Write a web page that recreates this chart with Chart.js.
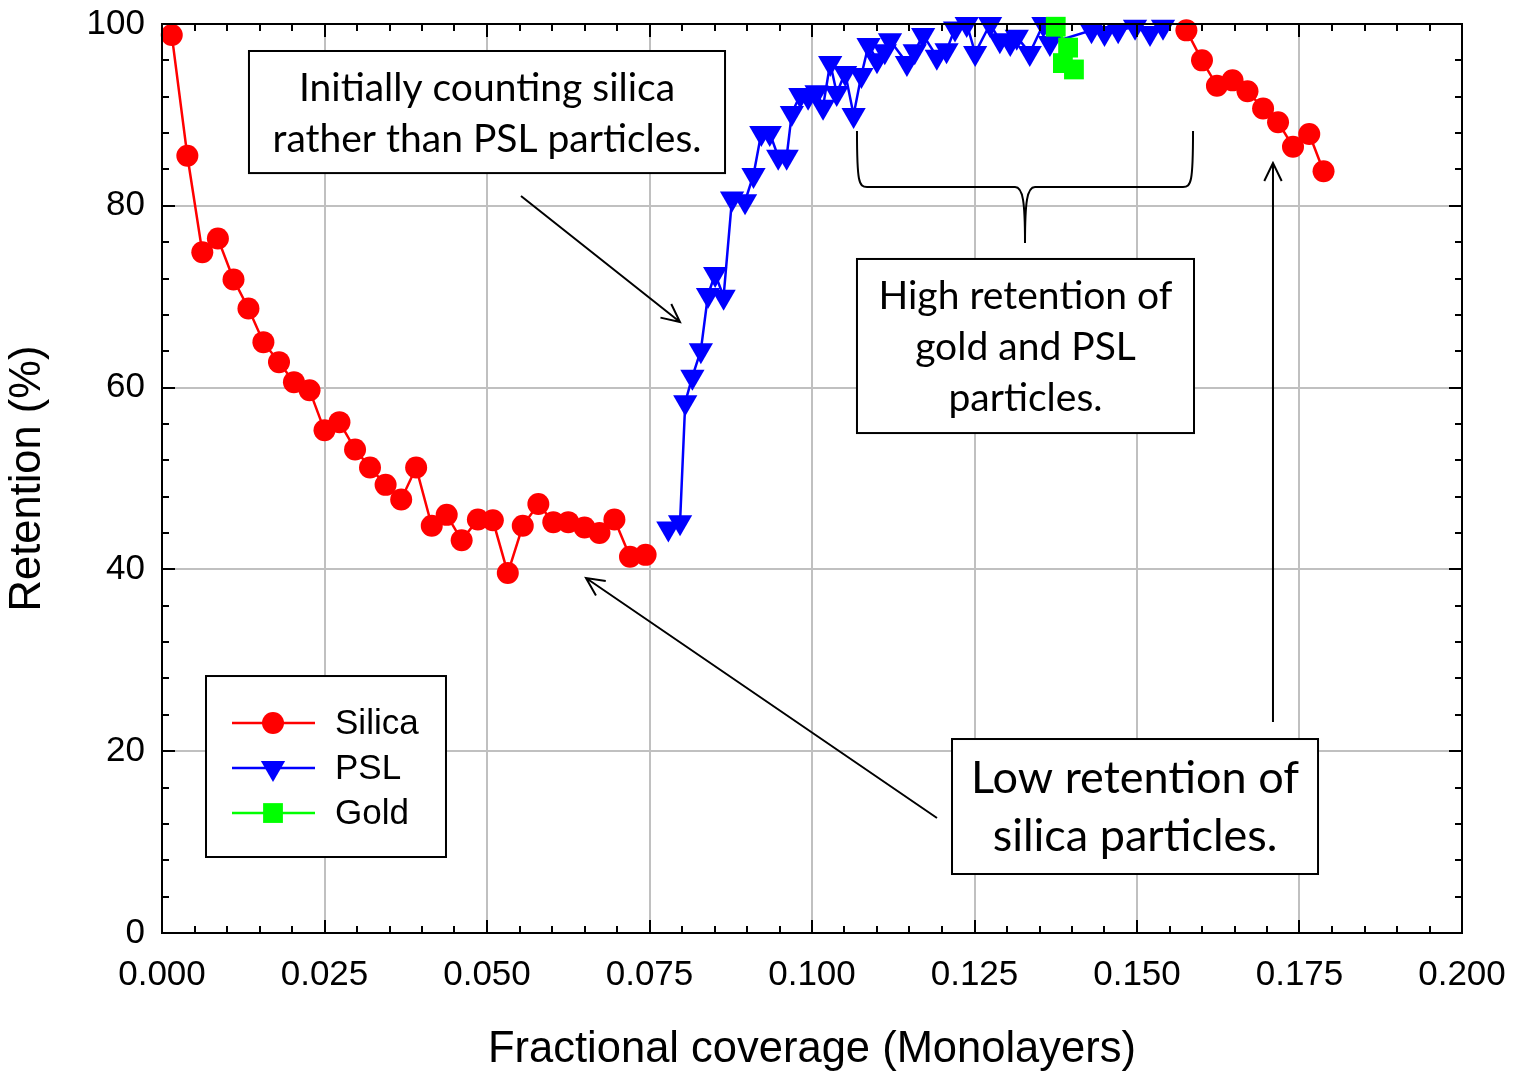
<!DOCTYPE html>
<html lang="en">
<head>
<meta charset="UTF-8">
<title>Retention vs Fractional Coverage</title>
<script src="https://cdn.jsdelivr.net/npm/chart.js"></script>
<style>
  html, body { margin: 0; padding: 0; background: #fff; }
</style>
</head>
<body>
<canvas id="retentionChart" width="1514" height="1072"></canvas>
<script>
// Silica, first run (before PSL takes over)
const silicaLowX = [0.0015, 0.0039, 0.0062, 0.0086, 0.0110, 0.0133, 0.0156, 0.0180, 0.0203, 0.0227,
                    0.0250, 0.0273, 0.0297, 0.0320, 0.0344, 0.0368, 0.0391, 0.0415, 0.0438, 0.0461,
                    0.0486, 0.0509, 0.0532, 0.0555, 0.0579, 0.0602, 0.0625, 0.0650, 0.0673, 0.0696,
                    0.0720, 0.0744];
const silicaLowY = [98.8, 85.5, 74.9, 76.4, 71.9, 68.7, 65.0, 62.8, 60.6, 59.7,
                    55.3, 56.2, 53.2, 51.2, 49.3, 47.7, 51.2, 44.8, 46.0, 43.2,
                    45.5, 45.4, 39.6, 44.8, 47.2, 45.2, 45.2, 44.6, 44.0, 45.5,
                    41.4, 41.6];
// Silica, second run (high coverage)
const silicaHighX = [0.1576, 0.1600, 0.1623, 0.1647, 0.1670, 0.1694, 0.1717, 0.1740, 0.1765, 0.1787];
const silicaHighY = [99.3, 96.0, 93.2, 93.8, 92.6, 90.7, 89.2, 86.5, 87.9, 83.8];

const pslX = [0.0779, 0.0797, 0.0805, 0.0816, 0.0829, 0.0840, 0.0851, 0.0864, 0.0877, 0.0897,
              0.0910, 0.0922, 0.0935, 0.0948, 0.0961, 0.0969, 0.0982, 0.0994, 0.1007, 0.1017,
              0.1028, 0.1038, 0.1051, 0.1064, 0.1076, 0.1087, 0.1100, 0.1112, 0.1120, 0.1146,
              0.1158, 0.1171, 0.1192, 0.1207, 0.1220, 0.1238, 0.1251, 0.1274, 0.1289, 0.1305,
              0.1315, 0.1335, 0.1356, 0.1366, 0.1430, 0.1450, 0.1471, 0.1497, 0.1520, 0.1540];
const pslY = [44.5, 45.2, 58.4, 61.2, 64.1, 70.2, 72.5, 70.0, 80.8, 80.5,
              83.4, 88.0, 88.0, 85.4, 85.4, 90.2, 92.2, 92.0, 92.5, 90.9,
              95.7, 92.4, 94.6, 90.0, 94.4, 97.7, 96.0, 97.0, 98.2, 95.7,
              97.0, 98.8, 96.4, 97.1, 99.5, 100.0, 96.8, 100.0, 98.2, 97.9,
              98.6, 96.8, 100.0, 97.9, 99.3, 99.0, 99.3, 99.7, 99.0, 99.7];

const goldX = [0.1375, 0.1394, 0.1386, 0.1403];
const goldY = [99.7, 97.4, 95.7, 95.0];

const xTickLabels = ['0.000', '0.025', '0.050', '0.075', '0.100', '0.125', '0.150', '0.175', '0.200'];
const yTickLabels = ['0', '20', '40', '60', '80', '100'];

const toPoints = (xs, ys) => xs.map((x, i) => ({ x: x, y: ys[i] }));
// null point breaks the silica line between the two runs
const silicaPoints = toPoints(silicaLowX, silicaLowY)
    .concat([{ x: 0.12, y: null }])
    .concat(toPoints(silicaHighX, silicaHighY));

const isMajor = (v, step) => Math.abs(v / step - Math.round(v / step)) < 1e-6;

const axisFont = "'Liberation Sans', Arial, sans-serif";
const callout = "Lato, Carlito, Calibri, 'Open Sans', sans-serif";

// text boxes, arrows and the brace, placed in data units
const notes = {
    boxes: [
        { x0: 0.01338, x1: 0.08662, y0: 97.03, y1: 83.6, size: 39,
          lines: [['Initially counting silica', 92.96], ['rather than PSL particles.', 87.35]] },
        { x0: 0.10692, x1: 0.15877, y0: 74.15, y1: 55.0, size: 39,
          lines: [['High retention of', 70.08], ['gold and PSL', 64.47], ['particles.', 58.86]] },
        { x0: 0.12154, x1: 0.17785, y0: 21.34, y1: 6.49, size: 45,
          lines: [['Low retention of', 17.05], ['silica particles.', 10.67]] }
    ],
    arrows: [
        { from: [0.05523, 81.08], to: [0.07969, 67.22] },
        { from: [0.11923, 12.65], to: [0.06523, 39.05] },
        { from: [0.17092, 23.21], to: [0.17092, 84.71] }
    ],
    brace: { left: 0.10692, right: 0.15862, center: 0.13277, top: 88.23, mid: 82.07, tip: 75.91 },
    legend: { x0: 0.00677, x1: 0.04369, y0: 28.27, y1: 8.36 }
};

const frameTicks = {
    id: 'frameTicks',
    afterDatasetsDraw(chart) {
        const { ctx, chartArea: a, scales: { x, y } } = chart;
        ctx.save();
        ctx.strokeStyle = '#000';
        ctx.lineWidth = 2;
        ctx.beginPath();
        x.ticks.forEach((t, i) => {
            const px = Math.round(x.getPixelForTick(i));
            const len = isMajor(t.value, 0.025) ? 13 : 7;
            ctx.moveTo(px, a.bottom); ctx.lineTo(px, a.bottom - len);
            ctx.moveTo(px, a.top); ctx.lineTo(px, a.top + len);
        });
        y.ticks.forEach((t, i) => {
            const py = Math.round(y.getPixelForTick(i));
            const len = isMajor(t.value, 20) ? 13 : 7;
            ctx.moveTo(a.left, py); ctx.lineTo(a.left + len, py);
            ctx.moveTo(a.right, py); ctx.lineTo(a.right - len, py);
        });
        ctx.stroke();
        ctx.strokeRect(a.left, a.top, a.right - a.left, a.bottom - a.top);
        ctx.restore();
    }
};

function arrowHead(ctx, fx, fy, tx, ty) {
    const ang = Math.atan2(ty - fy, tx - fx);
    const len = 20, spread = 0.45;
    ctx.moveTo(tx - len * Math.cos(ang - spread), ty - len * Math.sin(ang - spread));
    ctx.lineTo(tx, ty);
    ctx.lineTo(tx - len * Math.cos(ang + spread), ty - len * Math.sin(ang + spread));
}

const annotations = {
    id: 'annotations',
    afterDraw(chart) {
        const { ctx, scales: { x, y } } = chart;
        const px = v => x.getPixelForValue(v);
        const py = v => y.getPixelForValue(v);
        ctx.save();

        // boxes with text
        notes.boxes.forEach(b => {
            const l = px(b.x0), r = px(b.x1), t = py(b.y0), btm = py(b.y1);
            ctx.fillStyle = '#fff';
            ctx.fillRect(l, t, r - l, btm - t);
            ctx.strokeStyle = '#000';
            ctx.lineWidth = 2;
            ctx.strokeRect(l, t, r - l, btm - t);
            ctx.fillStyle = '#000';
            ctx.font = b.size + 'px ' + callout;
            ctx.textAlign = 'center';
            ctx.textBaseline = 'middle';
            b.lines.forEach(([txt, ly]) => ctx.fillText(txt, (l + r) / 2, py(ly)));
        });

        // arrows
        ctx.strokeStyle = '#000';
        ctx.lineWidth = 2;
        notes.arrows.forEach(a => {
            const fx = px(a.from[0]), fy = py(a.from[1]), tx = px(a.to[0]), ty = py(a.to[1]);
            ctx.beginPath();
            ctx.moveTo(fx, fy);
            ctx.lineTo(tx, ty);
            arrowHead(ctx, fx, fy, tx, ty);
            ctx.stroke();
        });

        // curly brace
        const br = notes.brace;
        const xl = px(br.left), xr = px(br.right), xc = px(br.center);
        const yt = py(br.top), ym = py(br.mid), yp = py(br.tip);
        ctx.beginPath();
        ctx.moveTo(xl, yt);
        ctx.bezierCurveTo(xl, ym - 4, xl + 2, ym, xl + 10, ym);
        ctx.lineTo(xc - 10, ym);
        ctx.bezierCurveTo(xc - 2, ym, xc, ym + 15, xc, yp);
        ctx.moveTo(xc, yp);
        ctx.bezierCurveTo(xc, ym + 15, xc + 2, ym, xc + 10, ym);
        ctx.lineTo(xr - 10, ym);
        ctx.bezierCurveTo(xr - 2, ym, xr, ym - 4, xr, yt);
        ctx.stroke();

        // legend box
        const lg = notes.legend;
        const ll = px(lg.x0), lr = px(lg.x1), lt = py(lg.y0), lb = py(lg.y1);
        ctx.fillStyle = '#fff';
        ctx.fillRect(ll, lt, lr - ll, lb - lt);
        ctx.strokeRect(ll, lt, lr - ll, lb - lt);
        ctx.font = '35px ' + axisFont;
        ctx.textAlign = 'left';
        ctx.textBaseline = 'middle';
        chart.data.datasets.forEach((ds, i) => {
            const ry = lt + 47 + i * 45;
            ctx.strokeStyle = ds.borderColor;
            ctx.lineWidth = 2.5;
            ctx.beginPath();
            ctx.moveTo(ll + 26, ry);
            ctx.lineTo(ll + 109, ry);
            ctx.stroke();
            ctx.fillStyle = ds.pointBackgroundColor;
            Chart.helpers.drawPoint(ctx, {
                pointStyle: ds.pointStyle, rotation: ds.pointRotation || 0,
                radius: ds.pointRadius, borderWidth: 0
            }, ll + 67, ry);
            ctx.fillStyle = '#000';
            ctx.fillText(ds.label, ll + 129, ry + 1);
        });
        ctx.restore();
    }
};

const ctx = document.getElementById('retentionChart').getContext('2d');
const chart = new Chart(ctx, {
    type: 'scatter',
    data: {
        datasets: [{
            label: 'Silica',
            data: silicaPoints,
            showLine: true,
            borderColor: '#ff0000',
            backgroundColor: '#ff0000',
            pointBackgroundColor: '#ff0000',
            borderWidth: 2.5,
            pointStyle: 'circle',
            pointRadius: 11,
            pointBorderWidth: 0,
            clip: false,
            order: 3
        }, {
            label: 'PSL',
            data: toPoints(pslX, pslY),
            showLine: true,
            borderColor: '#0000ff',
            backgroundColor: '#0000ff',
            pointBackgroundColor: '#0000ff',
            borderWidth: 2.5,
            pointStyle: 'triangle',
            pointRotation: 180,
            pointRadius: 14,
            pointBorderWidth: 0,
            clip: false,
            order: 2
        }, {
            label: 'Gold',
            data: toPoints(goldX, goldY),
            showLine: true,
            borderColor: '#00ff00',
            backgroundColor: '#00ff00',
            pointBackgroundColor: '#00ff00',
            borderWidth: 2.5,
            pointStyle: 'rect',
            pointRadius: 14,
            pointBorderWidth: 0,
            clip: false,
            order: 1
        }]
    },
    options: {
        responsive: false,
        animation: false,
        layout: { padding: { top: 24, right: 52, left: 0, bottom: 0 } },
        plugins: {
            legend: { display: false },
            tooltip: { enabled: false }
        },
        scales: {
            x: {
                type: 'linear',
                min: 0,
                max: 0.2,
                afterFit: s => { s.height = 139; s.paddingLeft = 0; s.paddingRight = 0; },
                ticks: {
                    stepSize: 0.005,
                    autoSkip: false,
                    maxRotation: 0,
                    padding: 21,
                    color: '#000',
                    font: { family: axisFont, size: 35 },
                    callback: v => isMajor(v, 0.025) ? xTickLabels[Math.round(v / 0.025)] : ''
                },
                grid: {
                    drawTicks: false,
                    lineWidth: 2,
                    color: c => (c.tick && isMajor(c.tick.value, 0.025)) ? '#c0c0c0' : 'rgba(0,0,0,0)'
                },
                border: { display: false },
                title: {
                    display: true,
                    text: 'Fractional coverage (Monolayers)',
                    color: '#000',
                    font: { family: axisFont, size: 43.5, lineHeight: 1.0 },
                    padding: { top: 0, bottom: 0 }
                }
            },
            y: {
                min: 0,
                max: 100,
                afterFit: s => { s.width = 162; s.paddingTop = 0; s.paddingBottom = 0; },
                ticks: {
                    stepSize: 4,
                    autoSkip: false,
                    padding: 17,
                    color: '#000',
                    font: { family: axisFont, size: 35 },
                    callback: v => isMajor(v, 20) ? yTickLabels[Math.round(v / 20)] : ''
                },
                grid: {
                    drawTicks: false,
                    lineWidth: 2,
                    color: c => (c.tick && isMajor(c.tick.value, 20)) ? '#c0c0c0' : 'rgba(0,0,0,0)'
                },
                border: { display: false },
                title: {
                    display: true,
                    text: 'Retention (%)',
                    color: '#000',
                    font: { family: axisFont, size: 43.5, lineHeight: 1.3 },
                    padding: { top: 0, bottom: 0 }
                }
            }
        }
    },
    plugins: [frameTicks, annotations]
});
</script>
</body>
</html>
